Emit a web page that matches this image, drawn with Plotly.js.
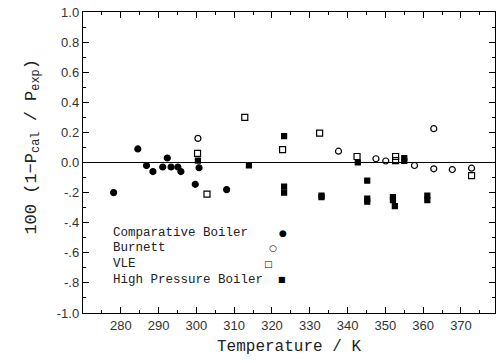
<!DOCTYPE html>
<html>
<head>
<meta charset="utf-8">
<script src="https://cdn.plot.ly/plotly-3.0.1.min.js"></script>
<style>html,body{margin:0;padding:0;background:#fff;}#chart{width:500px;height:363px;}</style>
</head>
<body>
<div id="chart"></div>
<script>
// Comparative Boiler (filled circles)
const cbT = [278.1, 284.5, 286.8, 288.5, 291.1, 292.3, 293.3, 295.1, 295.9, 299.7, 300.7, 308.0];
const cbY = [-0.20, 0.09, -0.02, -0.06, -0.03, 0.03, -0.03, -0.03, -0.06, -0.145, -0.035, -0.18];
// Burnett (open circles)
const buT = [300.4, 337.6, 347.5, 350.1, 357.7, 362.8, 362.8, 367.7, 372.8];
const buY = [0.16, 0.075, 0.025, 0.01, -0.02, 0.225, -0.042, -0.047, -0.038];
// VLE (open squares)
const vlT = [300.3, 302.8, 312.8, 322.8, 332.6, 342.5, 352.7, 352.7, 372.8];
const vlY = [0.06, -0.21, 0.30, 0.085, 0.195, 0.04, 0.04, 0.013, -0.087];
// High Pressure Boiler (filled squares)
const hpT = [300.4, 313.9, 323.2, 323.2, 323.2, 333.1, 333.1, 342.7, 345.2, 345.2, 345.2, 352.0, 352.0, 352.5, 355.0, 355.0, 361.1, 361.1];
const hpY = [0.013, -0.02, 0.175, -0.16, -0.20, -0.22, -0.23, 0.0, -0.12, -0.24, -0.26, -0.23, -0.25, -0.29, 0.03, 0.01, -0.22, -0.25];

const seriesNames = ["Comparative Boiler", "Burnett", "VLE", "High Pressure Boiler"];
const xTickVals = [280, 290, 300, 310, 320, 330, 340, 350, 360, 370];
const yTickVals = [1.0, 0.8, 0.6, 0.4, 0.2, 0.0, -0.2, -0.4, -0.6, -0.8, -1.0];
const yTickText = ["1.0", "0.8", "0.6", "0.4", "0.2", "0.0", "-.2", "-.4", "-.6", "-.8", "-1.0"];

const mk = (symbol, size) => ({symbol: symbol, size: size, color: '#000', line: {color: '#000', width: 1.2}});
const traces = [
  {x: cbT, y: cbY, name: seriesNames[0], mode: 'markers', type: 'scatter', marker: mk('circle', 6)},
  {x: buT, y: buY, name: seriesNames[1], mode: 'markers', type: 'scatter', marker: mk('circle-open', 6)},
  {x: vlT, y: vlY, name: seriesNames[2], mode: 'markers', type: 'scatter', marker: mk('square-open', 6)},
  {x: hpT, y: hpY, name: seriesNames[3], mode: 'markers', type: 'scatter', marker: mk('square', 5)}
];

const mono = 'Liberation Mono, Courier New, monospace';
const legY = [0.266, 0.216, 0.163, 0.110];
const legSymX = [0.485, 0.461, 0.451, 0.483];
const legSym = ['●', '○', '□', '■'];
const annotations = [];
seriesNames.forEach((n, i) => {
  annotations.push({xref: 'paper', yref: 'paper', x: 0.068, y: legY[i], xanchor: 'left', yanchor: 'middle',
    text: n, showarrow: false, font: {family: mono, size: 12.5, color: '#222'}});
  annotations.push({xref: 'paper', yref: 'paper', x: legSymX[i], y: legY[i], xanchor: 'center', yanchor: 'middle',
    text: legSym[i], showarrow: false, font: {family: 'DejaVu Sans', size: i === 3 ? 8 : 9, color: '#000'}});
});
// y-axis title
annotations.push({xref: 'paper', yref: 'paper', x: -0.121, y: 0.55, xanchor: 'center', yanchor: 'middle',
  textangle: -90, showarrow: false,
  text: '100 (1\u2212P<sub>cal</sub> / P<sub>exp</sub>)', font: {family: mono, size: 17, color: '#222'}});

const layout = {
  width: 500, height: 363,
  margin: {l: 83, r: 5, t: 12, b: 50},
  paper_bgcolor: '#fff', plot_bgcolor: '#fff',
  showlegend: false,
  font: {family: 'Liberation Sans, Arial, sans-serif', size: 12, color: '#222'},
  xaxis: {
    range: [270, 379], tickvals: xTickVals, ticks: 'inside', ticklen: 6, tickwidth: 1, tickcolor: '#000',
    minor: {dtick: 5, tick0: 275, ticks: 'inside', ticklen: 3, tickcolor: '#000'},
    showgrid: false, zeroline: false, showline: true, linecolor: '#000', linewidth: 1.2, mirror: 'ticks',
    tickfont: {family: 'Liberation Sans, Arial, sans-serif', size: 13, color: '#333'},
    title: {text: 'Temperature / K', font: {family: mono, size: 16, color: '#222'}, standoff: 8}
  },
  yaxis: {
    range: [-1.0, 1.0], tickvals: yTickVals, ticktext: yTickText, ticks: 'inside', ticklen: 6, tickwidth: 1, tickcolor: '#000',
    minor: {dtick: 0.1, tick0: 0.1, ticks: 'inside', ticklen: 3, tickcolor: '#000'},
    showgrid: false, zeroline: true, zerolinecolor: '#000', zerolinewidth: 1.3,
    showline: true, linecolor: '#000', linewidth: 1.2, mirror: 'ticks',
    tickfont: {family: 'Liberation Sans, Arial, sans-serif', size: 13, color: '#333'}
  },
  annotations: annotations
};

Plotly.newPlot('chart', traces, layout, {staticPlot: true, displayModeBar: false});
</script>
</body>
</html>
